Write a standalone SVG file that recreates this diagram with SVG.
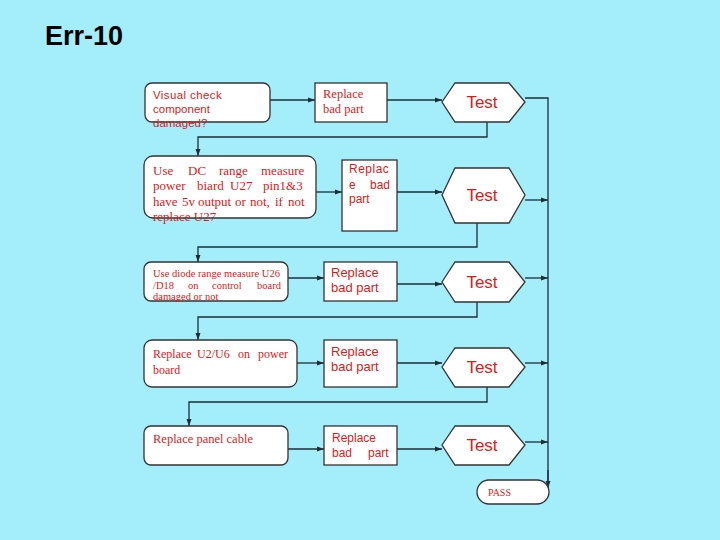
<svg xmlns="http://www.w3.org/2000/svg" width="720" height="540" viewBox="0 0 720 540">
<defs>
<marker id="ah" markerWidth="8" markerHeight="6" refX="7" refY="3" orient="auto" markerUnits="userSpaceOnUse">
<path d="M0,0.5 L7,3 L0,5.5 Z" fill="#1c2e3a"/>
</marker>
<style>
.box{fill:#fff;stroke:#333;stroke-width:1.3}
.con{fill:none;stroke:#1c2e3a;stroke-width:1.3}
.arr{fill:none;stroke:#1c2e3a;stroke-width:1.3;marker-end:url(#ah)}
.s{font-family:"Liberation Sans",Arial,sans-serif;fill:#dc1a1a}
.t{font-family:"Liberation Serif","Times New Roman",serif;fill:#dc1a1a}
.test{font-family:"Liberation Sans",Arial,sans-serif;fill:#dc1a1a;font-size:17px;text-anchor:middle}
</style>
</defs>
<rect width="720" height="540" fill="#a3eefa"/>
<text x="45" y="45" font-family="Liberation Sans,Arial,sans-serif" font-weight="bold" font-size="27" fill="#000">Err-10</text>

<g id="connectors">
<path class="arr" d="M270,100 H315"/>
<path class="arr" d="M387,100 H442"/>
<path class="con" d="M525,98 H548 V488"/>
<path class="arr" d="M548,470 V488"/>
<path class="arr" d="M487,122 V137 H198 V156"/>
<path class="arr" d="M316,192 H342"/>
<path class="arr" d="M397,192 H442"/>
<path class="arr" d="M525,200 H548"/>
<path class="arr" d="M477,223 V247 H198 V262"/>
<path class="arr" d="M288,278 H324"/>
<path class="arr" d="M397,284 H442"/>
<path class="arr" d="M525,278 H548"/>
<path class="arr" d="M477,302 V317 H198 V340"/>
<path class="arr" d="M297,363 H324"/>
<path class="arr" d="M397,363 H442"/>
<path class="arr" d="M525,363 H548"/>
<path class="arr" d="M487,387 V402 H189 V426"/>
<path class="arr" d="M288,449 H324"/>
<path class="arr" d="M397,449 H442"/>
<path class="arr" d="M525,442 H548"/>
</g>

<g id="n1">
<rect class="box" x="145" y="83" width="125" height="39" rx="7"/>
<text class="s" font-size="11.5"><tspan x="153" y="99" letter-spacing="0.4">Visual check</tspan><tspan x="153" y="113">component</tspan><tspan x="153" y="127">damaged?</tspan></text>
</g>
<g id="r1">
<rect class="box" x="315" y="83" width="72" height="39"/>
<text class="t" font-size="12.5"><tspan x="323" y="98">Replace</tspan><tspan x="323" y="113">bad part</tspan></text>
</g>
<g id="t1">
<polygon class="box" points="442,102 455,83 509,83 525,102 509,122 455,122"/>
<text class="test" x="482" y="108">Test</text>
</g>

<g id="n2">
<rect class="box" x="144" y="156" width="172" height="62" rx="9"/>
<text class="t" font-size="13">
<tspan x="153" y="175">Use</tspan><tspan x="188" y="175">DC</tspan><tspan x="219" y="175">range</tspan><tspan x="261" y="175">measure</tspan>
<tspan x="153" y="190">power</tspan><tspan x="197" y="190">biard</tspan><tspan x="230" y="190">U27</tspan><tspan x="263" y="190">pin1&amp;3</tspan>
<tspan x="153" y="206">have</tspan><tspan x="182" y="206">5v</tspan><tspan x="198" y="206">output</tspan><tspan x="235" y="206">or</tspan><tspan x="250" y="206">not,</tspan><tspan x="275" y="206">if</tspan><tspan x="288" y="206">not</tspan>
<tspan x="153" y="221">replace U27</tspan>
</text>
</g>
<g id="r2">
<rect class="box" x="342" y="160" width="55" height="71"/>
<text class="s" font-size="12"><tspan x="349" y="173" letter-spacing="0.5">Replac</tspan><tspan x="349" y="189">e</tspan><tspan x="370" y="189">bad</tspan><tspan x="349" y="203">part</tspan></text>
</g>
<g id="t2">
<polygon class="box" points="442,195 455,168 509,168 525,195 509,223 455,223"/>
<text class="test" x="482" y="201">Test</text>
</g>

<g id="n3">
<rect class="box" x="144" y="262" width="144" height="39" rx="7"/>
<text class="t" font-size="10.5">
<tspan x="153" y="277" textLength="127" lengthAdjust="spacingAndGlyphs">Use diode range measure U26</tspan>
<tspan x="153" y="289">/D18</tspan><tspan x="188" y="289">on</tspan><tspan x="212" y="289">control</tspan><tspan x="257" y="289">board</tspan>
<tspan x="153" y="300">damaged or not</tspan>
</text>
</g>
<g id="r3">
<rect class="box" x="324" y="262" width="73" height="39"/>
<text class="s" font-size="13"><tspan x="331" y="277">Replace</tspan><tspan x="331" y="292">bad part</tspan></text>
</g>
<g id="t3">
<polygon class="box" points="442,282 455,262 509,262 525,282 509,302 455,302"/>
<text class="test" x="482" y="288">Test</text>
</g>

<g id="n4">
<rect class="box" x="144" y="340" width="153" height="47" rx="8"/>
<text class="t" font-size="12">
<tspan x="153" y="358">Replace</tspan><tspan x="197" y="358">U2/U6</tspan><tspan x="238" y="358">on</tspan><tspan x="258" y="358">power</tspan>
<tspan x="153" y="374">board</tspan>
</text>
</g>
<g id="r4">
<rect class="box" x="324" y="340" width="73" height="47"/>
<text class="s" font-size="13"><tspan x="331" y="356">Replace</tspan><tspan x="331" y="371">bad part</tspan></text>
</g>
<g id="t4">
<polygon class="box" points="442,367 455,348 509,348 525,367 509,387 455,387"/>
<text class="test" x="482" y="373">Test</text>
</g>

<g id="n5">
<rect class="box" x="144" y="426" width="144" height="39" rx="7"/>
<text class="t" font-size="12.5" x="153" y="443">Replace panel cable</text>
</g>
<g id="r5">
<rect class="box" x="324" y="426" width="73" height="39"/>
<text class="s" font-size="12"><tspan x="332" y="442">Replace</tspan><tspan x="332" y="457">bad</tspan><tspan x="368" y="457">part</tspan></text>
</g>
<g id="t5">
<polygon class="box" points="442,445 455,426 509,426 525,445 509,465 455,465"/>
<text class="test" x="482" y="451">Test</text>
</g>

<g id="pass">
<rect class="box" x="477" y="480" width="72" height="24" rx="12"/>
<text class="t" font-size="10" x="488" y="496">PASS</text>
</g>
</svg>
